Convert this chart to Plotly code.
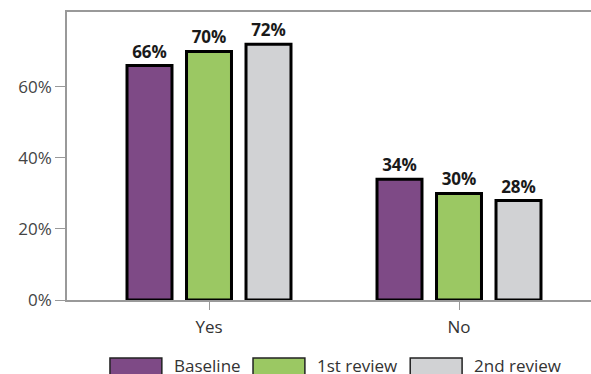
import plotly.graph_objects as go

categories = ["Yes", "No"]
series_names = ["Baseline", "1st review", "2nd review"]
baseline = [0.66, 0.34]
first_review = [0.70, 0.30]
second_review = [0.72, 0.28]
y_ticks = [0, 0.2, 0.4, 0.6]
y_tick_labels = ["0%", "20%", "40%", "60%"]

colors = ["#7E4A86", "#9BC863", "#D1D2D4"]
values = [baseline, first_review, second_review]

fig = go.Figure()
for name, vals, color in zip(series_names, values, colors):
    fig.add_trace(go.Bar(
        x=categories, y=vals, name=name,
        marker=dict(color=color, line=dict(color="#000000", width=3)),
        text=[f"{v:.0%}" for v in vals],
        textposition="outside",
        textfont=dict(family="Open Sans", size=17, color="#1a1a1a"),
        texttemplate="<b>%{text}</b>",
        cliponaxis=False,
        showlegend=False,
    ))

# legend drawn by hand to get the wide swatches (plot area is 524 x 288 px)
legend_x = [0.082, 0.355, 0.655]
for name, color, lx in zip(series_names, colors, legend_x):
    fig.add_shape(type="rect", xref="paper", yref="paper",
                  x0=lx, x1=lx + 0.099, y0=-0.27, y1=-0.201,
                  fillcolor=color, line=dict(color="#222222", width=1.5))
    fig.add_annotation(x=lx + 0.118, y=-0.229, xref="paper", yref="paper",
                       text=name, showarrow=False, xanchor="left", yanchor="middle",
                       font=dict(family="Open Sans", size=17, color="#333333"))

fig.update_layout(
    width=591, height=374,
    margin=dict(l=67, r=0, t=12, b=74, autoexpand=False),
    paper_bgcolor="white", plot_bgcolor="white",
    barmode="group", bargap=0.286, bargroupgap=0.244,
    font=dict(family="Open Sans", size=17, color="#444444"),
)
fig.update_xaxes(
    range=[-0.568, 1.528], showline=True, mirror=True, linecolor="#999999", linewidth=1.5,
    ticks="outside", ticklen=8, tickcolor="#999999", showgrid=False, automargin=False,
    ticklabelstandoff=3, tickfont=dict(size=17, color="#333333"),
)
fig.update_yaxes(
    range=[0, 0.811], showline=True, linecolor="#999999", linewidth=1.5,
    ticks="outside", ticklen=10, tickcolor="#999999", showgrid=False, zeroline=False,
    automargin=False, tickvals=y_ticks, ticktext=y_tick_labels,
    tickfont=dict(size=17, color="#444444"),
)

fig.write_html("out.html", config={"displayModeBar": False},
               post_script="document.body.style.margin='0';")
